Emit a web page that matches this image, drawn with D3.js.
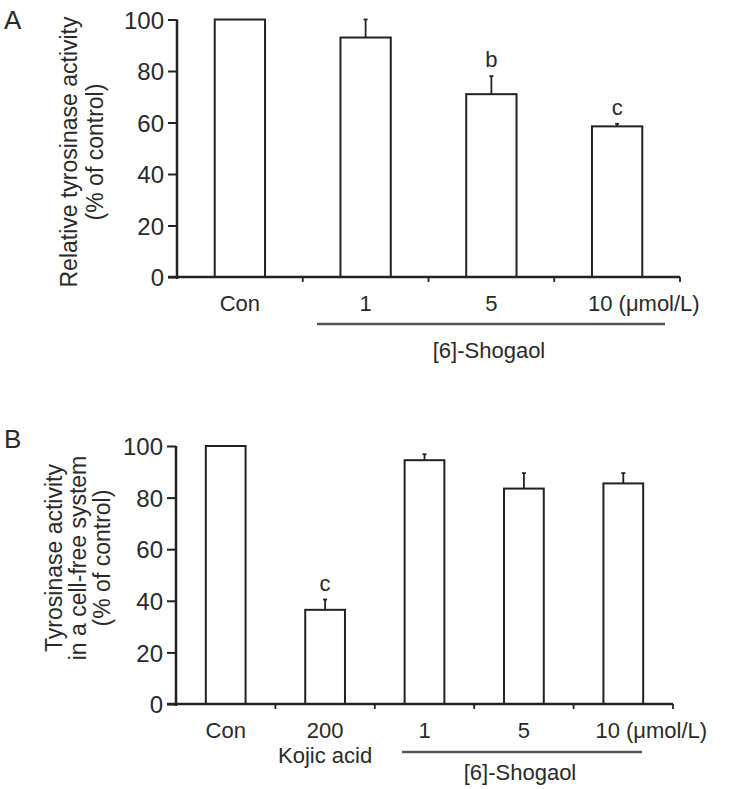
<!DOCTYPE html>
<html>
<head>
<meta charset="utf-8">
<script src="https://cdn.jsdelivr.net/npm/d3@7"></script>
<style>
  body { margin: 0; background: #fff; }
  svg text { font-family: "Liberation Sans", Arial, sans-serif; fill: #2a2a2a; }
</style>
</head>
<body>
<svg width="729" height="789"></svg>
<script>
// panel A: cells
var catsA = ["Con", "1", "5", "10 (\u03bcmol/L)"];
var valsA = [100, 93, 71, 58.5];
var errA = [0, 7, 7, 1];
var sigA = ["", "", "b", "c"];

// panel B: cell-free system
var catsB = ["Con", "200", "1", "5", "10 (\u03bcmol/L)"];
var valsB = [100, 36.5, 94.5, 83.5, 85.5];
var errB = [0, 4, 2.3, 6, 4];
var sigB = ["", "c", "", "", ""];

var yTicks = [0, 20, 40, 60, 80, 100];

var svg = d3.select("svg");
var ink = "#222";
var fs = "22px";

function panel(opt) {
    var x = d3.scaleBand()
        .domain(opt.cats)
        .range([opt.x0, opt.x1])
        .paddingInner(0.6)
        .paddingOuter(0.3);
    var y = d3.scaleLinear().domain([0, 100]).range([opt.y0, opt.y1]);
    var g = svg.append("g");

    // bars
    g.selectAll("rect.bar")
        .data(opt.vals)
        .enter().append("rect")
        .attr("x", (d, i) => x(opt.cats[i]))
        .attr("y", d => y(d))
        .attr("width", x.bandwidth())
        .attr("height", d => y(0) - y(d))
        .attr("fill", "#fff")
        .attr("stroke", ink)
        .attr("stroke-width", 2);

    // error bars (upper only)
    opt.vals.forEach(function (v, i) {
        if (!opt.err[i]) return;
        var cx = x(opt.cats[i]) + x.bandwidth() / 2;
        g.append("line")
            .attr("x1", cx).attr("x2", cx)
            .attr("y1", y(v)).attr("y2", y(v + opt.err[i]))
            .attr("stroke", ink).attr("stroke-width", 1.8);
        g.append("line")
            .attr("x1", cx - 2).attr("x2", cx + 2)
            .attr("y1", y(v + opt.err[i])).attr("y2", y(v + opt.err[i]))
            .attr("stroke", ink).attr("stroke-width", 1.8);
        if (opt.sig[i]) {
            g.append("text")
                .attr("x", cx)
                .attr("y", y(v + opt.err[i]) - 9)
                .attr("text-anchor", "middle")
                .style("font-size", fs)
                .text(opt.sig[i]);
        }
    });

    // y axis
    var yAxis = g.append("g")
        .attr("transform", "translate(" + opt.x0 + ",0)")
        .call(d3.axisLeft(y).tickValues(yTicks).tickSize(9).tickPadding(4));
    yAxis.select(".domain").attr("d", "M0," + (opt.y0 + 2) + "V" + opt.y1)
        .attr("stroke", ink).attr("stroke-width", 2.5);
    yAxis.selectAll(".tick line").attr("stroke", ink).attr("stroke-width", 2);
    yAxis.selectAll(".tick text").style("font-size", "24px").attr("dy", "0.36em");

    // x axis line + small ticks between groups
    g.append("line")
        .attr("x1", opt.x0 - 9).attr("x2", opt.x1)
        .attr("y1", y(0)).attr("y2", y(0))
        .attr("stroke", ink).attr("stroke-width", 2.5);
    var step = x.step();
    d3.range(1, opt.cats.length + 1).forEach(function (j) {
        var tx = opt.x0 + j * step;
        g.append("line")
            .attr("x1", tx).attr("x2", tx)
            .attr("y1", y(0)).attr("y2", y(0) + 5)
            .attr("stroke", ink).attr("stroke-width", 1.8);
    });

    // category labels
    opt.cats.forEach(function (c, i) {
        var cx = x(c) + x.bandwidth() / 2;
        var t = g.append("text")
            .attr("y", opt.labelY)
            .style("font-size", fs)
            .text(c);
        if (i === opt.cats.length - 1) {
            t.attr("x", x(c) + opt.lastShift).attr("text-anchor", "start");
        } else {
            t.attr("x", cx).attr("text-anchor", "middle");
        }
    });

    // y title
    opt.title.forEach(function (line, k) {
        g.append("text")
            .attr("transform", "translate(" + opt.titleX[k] + "," + opt.titleY + ") rotate(-90)")
            .attr("text-anchor", "middle")
            .style("font-size", "23px")
            .text(line);
    });

    // panel letter
    g.append("text")
        .attr("x", 4).attr("y", opt.letterY)
        .style("font-size", "26px")
        .text(opt.letter);

    return x;
}

// A
var xA = panel({
    cats: catsA, vals: valsA, err: errA, sig: sigA,
    x0: 177, x1: 680, y0: 277, y1: 19.5,
    labelY: 311, lastShift: -4,
    title: ["Relative tyrosinase activity", "(% of control)"],
    titleX: [77, 103], titleY: 152,
    letter: "A", letterY: 29
});
svg.append("line")
    .attr("x1", 317).attr("x2", 665).attr("y1", 324).attr("y2", 324)
    .attr("stroke", "#555").attr("stroke-width", 2.5);
svg.append("text")
    .attr("x", 489).attr("y", 358)
    .attr("text-anchor", "middle")
    .style("font-size", fs)
    .text("[6]-Shogaol");

// B
var xB = panel({
    cats: catsB, vals: valsB, err: errB, sig: sigB,
    x0: 176, x1: 673, y0: 704, y1: 446,
    labelY: 738, lastShift: -8,
    title: ["Tyrosinase activity", "in a cell-free system", "(% of control)"],
    titleX: [62, 86, 110], titleY: 558,
    letter: "B", letterY: 448
});
svg.append("text")
    .attr("x", xB("200") + xB.bandwidth() / 2).attr("y", 763)
    .attr("text-anchor", "middle")
    .style("font-size", fs)
    .text("Kojic acid");
svg.append("line")
    .attr("x1", 402).attr("x2", 642).attr("y1", 752).attr("y2", 752)
    .attr("stroke", "#555").attr("stroke-width", 2.5);
svg.append("text")
    .attr("x", 520).attr("y", 780)
    .attr("text-anchor", "middle")
    .style("font-size", fs)
    .text("[6]-Shogaol");
</script>
</body>
</html>
